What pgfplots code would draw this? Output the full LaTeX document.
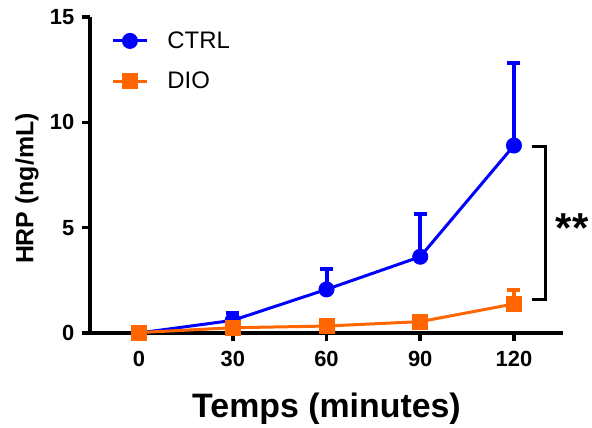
\documentclass[border=0pt]{standalone}
\usepackage{fontspec}
\setmainfont{Liberation Sans}
\usepackage{pgfplots}
\pgfplotsset{compat=1.18}
\definecolor{ctrl}{RGB}{0,0,255}
\definecolor{dio}{RGB}{255,102,0}
\begin{document}
\begin{tikzpicture}
\useasboundingbox (-90bp,-95bp) rectangle (502bp,333bp);
\begin{axis}[
  at={(0,0)}, anchor=south west,
  scale only axis, width=473bp, height=316bp,
  xmin=-15.7, xmax=135.7, ymin=0, ymax=15,
  axis lines=left, axis line style={line width=3.5bp, -},
  xtick={0,30,60,90,120}, ytick={0,5,10,15},
  tick align=outside, major tick length=8bp,
  tick style={line width=3.5bp, black},
  xticklabels={0,30,60,90,120},
  yticklabels={0,5,10,15},
  xticklabel style={font=\bfseries, scale=2.2, yshift=-1bp},
  yticklabel style={font=\bfseries, scale=2.2},
  xlabel={Temps (minutes)},
  xlabel style={font=\fontsize{34}{34}\selectfont\bfseries, at={(axis description cs:0.5,0)}, anchor=center, yshift=-76bp},
  ylabel={HRP (ng/mL)},
  ylabel style={font=\fontsize{25}{25}\selectfont\bfseries, at={(axis description cs:-0.133,0.457)}, anchor=center},
  clip=false,
  legend style={at={(0.045,0.96)}, anchor=north west, draw=none, fill=none,
    font=\fontsize{24}{24}\selectfont, row sep=18bp, inner sep=0pt,
    /tikz/every odd column/.append style={column sep=17bp}},
  legend cell align=left,
  legend image code/.code={\draw[#1, mark repeat=2, mark phase=2] plot coordinates {(0bp,0bp) (17bp,0bp) (34bp,0bp)};},
  error bars/y dir=plus, error bars/y explicit,
]
\addplot[ctrl, line width=3bp, mark=*, mark size=6.5bp, mark options={solid},
  error bars/error bar style={line width=4bp, ctrl},
  error bars/error mark options={rotate=90, mark size=6.5bp, line width=4bp, ctrl}]
  coordinates {(0,0) +- (0,0) (30,0.6) +- (0,0.37) (60,2.07) +- (0,0.97) (90,3.62) +- (0,2.02) (120,8.9) +- (0,3.94)};
\addlegendentry{CTRL}
\addplot[dio, line width=3bp, mark=square*, mark size=6.5bp, mark options={solid},
  error bars/error bar style={line width=4bp, dio},
  error bars/error mark options={rotate=90, mark size=6.5bp, line width=4bp, dio}]
  coordinates {(0,0.02) +- (0,0.03) (30,0.25) +- (0,0.08) (60,0.33) +- (0,0.08) (90,0.54) +- (0,0.1) (120,1.38) +- (0,0.66)};
\addlegendentry{DIO}
\draw[line width=3bp, black] (axis cs:125.8,8.84) -- (axis cs:130.2,8.84) -- (axis cs:130.2,1.57) -- (axis cs:125.8,1.57);
\node[font=\fontsize{42}{42}\selectfont\bfseries, anchor=center] at (axis cs:138.6,5.0) {**};
\end{axis}
\end{tikzpicture}
\end{document}
